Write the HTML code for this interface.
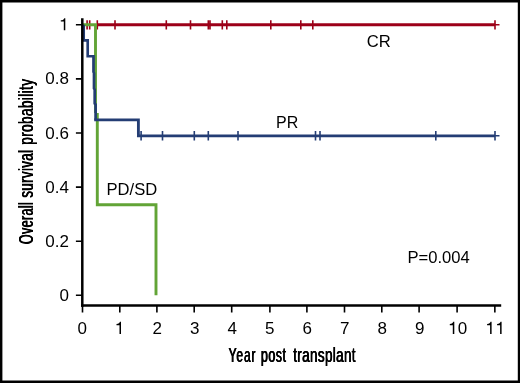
<!DOCTYPE html>
<html>
<head>
<meta charset="utf-8">
<style>
html,body{margin:0;padding:0;background:#fff;}
body{width:520px;height:383px;overflow:hidden;font-family:"Liberation Sans",sans-serif;}
svg{display:block;position:absolute;left:0;top:0;}
text{font-family:"Liberation Sans",sans-serif;fill:#000;}
g.t,g.c{will-change:transform;filter:grayscale(1);}
.t{font-size:17px;}
.c{font-size:20px;}
</style>
</head>
<body>
<svg width="520" height="383" viewBox="0 0 520 383">
<defs><path id="one" d="M5.9,0 V-12.05 H4.85 C4.55,-10.8 3.5,-10.05 1.4,-9.95 V-8.7 H4.4 V0 Z"/></defs>
<rect x="0" y="0" width="520" height="383" fill="#fff"/>
<!-- border -->
<path d="M0 0H520V383H0Z M2.4 2.4V380.5H517.8V2.4Z" fill="#000" fill-rule="evenodd"/>

<!-- red CR -->
<g stroke="#9c0018" fill="none">
<path d="M97 24.8 H495" stroke-width="3"/>
<path stroke-width="1.6" d="M87.1 20.2V29.5 M89.7 20.2V29.5 M97.3 20.2V29.5 M115 20.2V29.5 M166.3 20.2V29.5 M190.5 20.2V29.5 M208.3 20.2V29.5 M210 20.2V29.5 M222.3 20.2V29.5 M226.8 20.2V29.5 M270.8 20.2V29.5 M300.8 20.2V29.5 M312.8 20.2V29.5 M495 20.2V29.5 M490.5 24.8H499.5"/>
</g>

<!-- green PD/SD -->
<g fill="none" stroke="#62a436" stroke-width="2.9" stroke-linejoin="miter">
<path d="M82.5 24.8 H95.5 V113 M97.3 113 V204.8 H156 V295.3"/>
</g>

<!-- blue PR -->
<g stroke="#243d74" fill="none">
<path stroke-width="2.65" d="M83.7 24.8 V40.4 H87.7 V56.2 H93.5" stroke-linejoin="miter"/>
<path stroke-width="2.7" d="M93.5 54.9 V72 L94 73 V88.5 L94.7 89.5 V103.5 L95.6 104.5 V119.8" stroke-linejoin="round"/>
<path stroke-width="2.85" d="M94.2 119.8 H138.4 V135.8 H495" stroke-linejoin="miter"/>
<path stroke-width="1.6" d="M141.1 131V140.5 M162.5 131V140.5 M194.3 131V140.5 M208.3 131V140.5 M238 131V140.5 M315.5 131V140.5 M320 131V140.5 M435.8 131V140.5 M495 131V140.5 M490.5 135.8H499.5"/>
</g>

<!-- axes -->
<g stroke="#000" fill="none">
<path stroke-width="2.5" d="M82.3 18.2 V306.8"/>
<path stroke-width="2.5" d="M81.05 305.6 H501.2"/>
<path stroke-width="1.6" d="M75.9 24.8H82 M75.9 78.9H82 M75.9 133H82 M75.9 187.1H82 M75.9 241.2H82 M75.9 295.3H82"/>
<path stroke-width="1.6" d="M82.5 305V312.4 M119.8 305V312.4 M156.9 305V312.4 M194.2 305V312.4 M231.7 305V312.4 M269.9 305V312.4 M306.9 305V312.4 M344.5 305V312.4 M381.8 305V312.4 M419.1 305V312.4 M457.1 305V312.4 M494.85 305V312.4"/>
</g>

<!-- y tick labels -->
<g class="t" text-anchor="end">
<use href="#one" x="59.4" y="30.2"/>
<text x="69" y="84.4">0.8</text>
<text x="69" y="138.5">0.6</text>
<text x="69" y="192.5">0.4</text>
<text x="69" y="246.6">0.2</text>
<text x="69" y="301">0</text>
</g>
<!-- x tick labels -->
<g class="t" text-anchor="middle">
<text x="82.3" y="333.8">0</text>
<use href="#one" x="115.1" y="333.9"/>
<text x="157.3" y="333.8">2</text>
<text x="194.8" y="333.8">3</text>
<text x="232.3" y="333.8">4</text>
<text x="269.8" y="333.8">5</text>
<text x="307.3" y="333.8">6</text>
<text x="344.8" y="333.8">7</text>
<text x="382.3" y="333.8">8</text>
<text x="419.8" y="333.8">9</text>
<use href="#one" x="448.4" y="333.9"/><text x="462.4" y="333.8">0</text>
<use href="#one" x="485.7" y="333.9"/><use href="#one" x="495.7" y="333.9"/>
</g>
<!-- curve labels -->
<g class="t" style="font-size:16.6px">
<text x="366.8" y="46.5">CR</text>
<text x="276" y="127.6" style="font-size:16px">PR</text>
<text x="106.5" y="194.5">PD/SD</text>
<text x="407.5" y="262.8">P=0.004</text>
</g>
<!-- axis titles (condensed) -->
<g class="c" style="font-size:20.5px">
<text transform="translate(0 362.2) translate(228.33 0) scale(0.58 1)" textLength="46.29" lengthAdjust="spacing">Year</text>
<text transform="translate(0 362.2) translate(228.63 0) scale(0.58 1)" textLength="46.29" lengthAdjust="spacing">Year</text>
<text transform="translate(0 362.2) translate(228.93 0) scale(0.58 1)" textLength="46.29" lengthAdjust="spacing">Year</text>
<text transform="translate(0 362.2) translate(260.58 0) scale(0.61 1)" textLength="41.23" lengthAdjust="spacing">post</text>
<text transform="translate(0 362.2) translate(260.88 0) scale(0.61 1)" textLength="41.23" lengthAdjust="spacing">post</text>
<text transform="translate(0 362.2) translate(261.18 0) scale(0.61 1)" textLength="41.23" lengthAdjust="spacing">post</text>
<text transform="translate(0 362.2) translate(292.93 0) scale(0.66 1)" textLength="94.44" lengthAdjust="spacing">transplant</text>
<text transform="translate(0 362.2) translate(293.23 0) scale(0.66 1)" textLength="94.44" lengthAdjust="spacing">transplant</text>
<text transform="translate(0 362.2) translate(293.53 0) scale(0.66 1)" textLength="94.44" lengthAdjust="spacing">transplant</text>
<text transform="translate(33.2 244.1) rotate(-90) translate(-0.30 0) scale(0.61 1)" textLength="68.69" lengthAdjust="spacing">Overall</text>
<text transform="translate(33.2 244.1) rotate(-90) translate(0.00 0) scale(0.61 1)" textLength="68.69" lengthAdjust="spacing">Overall</text>
<text transform="translate(33.2 244.1) rotate(-90) translate(0.30 0) scale(0.61 1)" textLength="68.69" lengthAdjust="spacing">Overall</text>
<text transform="translate(33.2 244.1) rotate(-90) translate(46.20 0) scale(0.64 1)" textLength="74.38" lengthAdjust="spacing">survival</text>
<text transform="translate(33.2 244.1) rotate(-90) translate(46.50 0) scale(0.64 1)" textLength="74.38" lengthAdjust="spacing">survival</text>
<text transform="translate(33.2 244.1) rotate(-90) translate(46.80 0) scale(0.64 1)" textLength="74.38" lengthAdjust="spacing">survival</text>
<text transform="translate(33.2 244.1) rotate(-90) translate(99.10 0) scale(0.66 1)" textLength="99.47" lengthAdjust="spacing">probability</text>
<text transform="translate(33.2 244.1) rotate(-90) translate(99.40 0) scale(0.66 1)" textLength="99.47" lengthAdjust="spacing">probability</text>
<text transform="translate(33.2 244.1) rotate(-90) translate(99.70 0) scale(0.66 1)" textLength="99.47" lengthAdjust="spacing">probability</text>
</g>
</svg>
</body>
</html>
